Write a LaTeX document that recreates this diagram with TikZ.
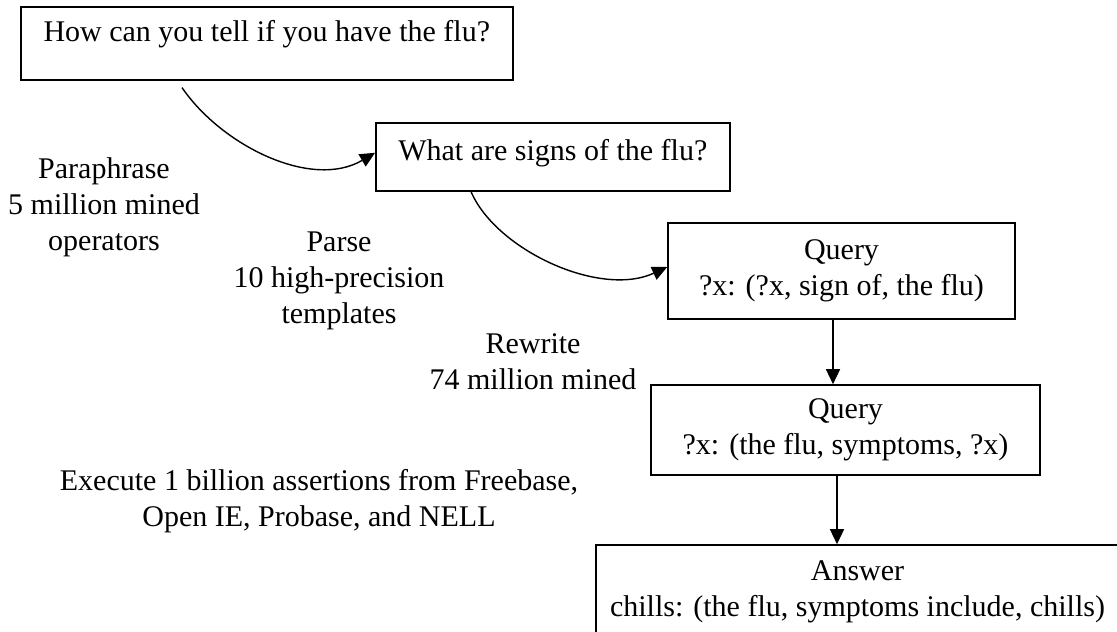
\documentclass[tikz,border=0pt]{standalone}
\usepackage{fontspec}
\setmainfont{Liberation Serif}
\usetikzlibrary{arrows.meta,calc}
\begin{document}
\begin{tikzpicture}[x=1pt,y=-1pt,
  every node/.style={font=\fontsize{30}{36}\selectfont},
  box/.style={draw, line width=1.6pt, inner sep=0pt, align=center},
  lbl/.style={align=center, anchor=base},
  arr/.style={line width=1.4pt, -{Triangle[length=15pt,width=14pt]}}]
\useasboundingbox (0,0) rectangle (1117,632);

% question boxes
\node[box, anchor=north west, minimum width=492pt, text height=35pt, text depth=38pt]
  (b1) at (20,6) {How can you tell if you have the flu?};
\node[box, anchor=north west, minimum width=354pt, text height=38pt, text depth=30pt]
  (b2) at (375,122) {What are signs of the flu?};

% query and answer boxes
\node[box, minimum width=347pt, minimum height=96pt] (b3) at (841.5,271)
  {Query\\?x: (?x, sign of, the flu)};
\node[box, minimum width=389pt, minimum height=90pt] (b4) at (845.5,430)
  {Query\\?x: (the flu, symptoms, ?x)};
\node[box, minimum width=523pt, minimum height=94pt] (b5) at (857.5,592)
  {Answer\\chills: (the flu, symptoms include, chills)};

% step labels (placed by the baseline of their last line)
\node[lbl] (para) at (104,250) {Paraphrase\\5 million mined\\operators};
\node[lbl] (parse) at (339,323) {Parse\\10 high-precision\\templates};
\node[lbl] (rewr) at (533,389) {Rewrite\\74 million mined};
\node[lbl] (exec) at (319,526) {Execute 1 billion assertions from Freebase,\\Open IE, Probase, and NELL};

% connectors
\coordinate (c1) at ($(b1.south west)+(162,7)$);
\draw[arr] (c1) .. controls (222,146) and (312,190) .. ([yshift=4pt]b2.west);
\draw[arr] ([xshift=96pt]b2.south west) .. controls (496,250) and (600,298) .. ([yshift=4pt]b3.west);
\draw[arr] ([xshift=-8.5pt]b3.south) -- ([xshift=-8.5pt]b3.south |- b4.north);
\draw[arr] ([xshift=-8.5pt]b4.south) -- ([xshift=-8.5pt]b4.south |- b5.north);
\end{tikzpicture}
\end{document}
